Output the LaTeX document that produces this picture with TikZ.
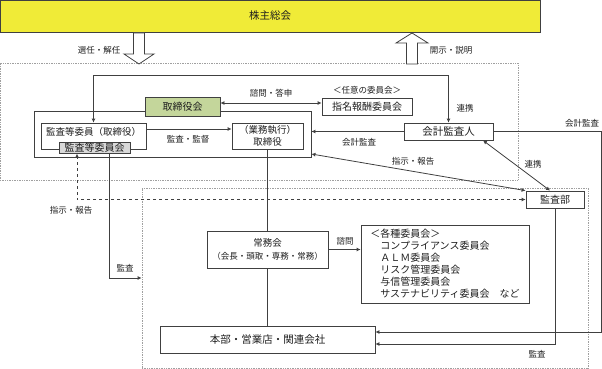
\documentclass[tikz,border=0pt]{standalone}
\usepackage{fontspec}
\setmainfont{Noto Sans CJK JP}
\usetikzlibrary{arrows.meta}
\begin{document}
\begin{tikzpicture}[x=1pt,y=1pt,font=\fontsize{9.5}{11}\selectfont,
hako/.style={draw=sen,line width=0.8pt,inner sep=0pt,align=center,text=moji},
tensen/.style={draw=usuhai,densely dotted,line width=0.7pt,inner sep=0pt},
yaji/.style={draw=sen,line width=0.8pt,-{Latex[length=4pt,width=4pt]}},
ryou/.style={draw=sen,line width=0.8pt,{Latex[length=4pt,width=4pt]}-{Latex[length=4pt,width=4pt]}},
futo/.style={draw=sen,line width=0.8pt,fill=white},
komoji/.style={font=\fontsize{8.5}{10}\selectfont,inner sep=0pt,text=moji}]
\definecolor{sen}{RGB}{64,64,64}
\definecolor{moji}{RGB}{30,30,30}
\definecolor{usuhai}{RGB}{160,160,160}
\definecolor{kiiro}{RGB}{240,235,55}
\definecolor{midori}{RGB}{196,214,155}
\definecolor{hai}{RGB}{217,217,217}
\useasboundingbox (0,0) rectangle (602,-369);
\node[hako,fill=kiiro,minimum width=540pt,minimum height=32pt,font=\fontsize{10.5}{12}\selectfont] (soukai) at (270,-16) {株主総会};
\node[tensen,minimum width=518pt,minimum height=117pt] (ue) at (259,-121.5) {};
\node[tensen,minimum width=446pt,minimum height=180pt] (shita) at (365,-278) {};
\draw[futo] (133.5,-33) -- (144.5,-33) -- (144.5,-54) -- (154,-54) -- (139,-64) -- (124,-54) -- (133.5,-54) -- cycle;
\draw[futo] (406.5,-64) -- (417.5,-64) -- (417.5,-43) -- (428,-43) -- (412,-33) -- (396,-43) -- (406.5,-43) -- cycle;
\node[komoji] (lsennin) at (99,-50) {選任・解任};
\node[komoji] (lkaiji) at (451,-50) {開示・説明};
\node[hako,minimum width=277pt,minimum height=46pt] (bd) at (172.5,-134) {};
\node[hako,fill=midori,minimum width=75pt,minimum height=19pt,font=\fontsize{10}{12}\selectfont] (torikai) at (182.5,-106.5) {取締役会};
\node[hako,fill=white,minimum width=105pt,minimum height=26pt,text depth=10pt] (iin) at (93.5,-136) {監査等委員（取締役）};
\node[hako,fill=hai,minimum width=71pt,minimum height=10.5pt,font=\fontsize{10}{10}\selectfont] (iinkai) at (94.5,-148) {監査等委員会};
\node[hako,minimum width=71pt,minimum height=26pt,font=\fontsize{9.5}{12}\selectfont] (gyomu) at (267.5,-136) {（業務執行）\\取締役};
\node[hako,minimum width=90pt,minimum height=17pt,font=\fontsize{10}{12}\selectfont] (shimei) at (367,-106.5) {指名報酬委員会};
\node[komoji] (nini) at (367,-90) {＜任意の委員会＞};
\node[hako,minimum width=89pt,minimum height=17pt,font=\fontsize{10.5}{12}\selectfont] (kaikei) at (448.5,-131.5) {会計監査人};
\node[hako,minimum width=58pt,minimum height=17pt,font=\fontsize{10}{12}\selectfont] (kansabu) at (555,-199.5) {監査部};
\node[hako,minimum width=121pt,minimum height=37pt,font=\fontsize{9.5}{13}\selectfont] (joumu) at (267.5,-249.5) {常務会\\{\fontsize{8.5}{13}\selectfont（会長・頭取・専務・常務）}};
\node[hako,minimum width=168pt,minimum height=78pt,align=left,font=\fontsize{10}{12}\selectfont] (kakushu) at (445,-264) {＜各種委員会＞\\\hspace*{10pt}コンプライアンス委員会\\\hspace*{10pt}ＡＬＭ委員会\\\hspace*{10pt}リスク管理委員会\\\hspace*{10pt}与信管理委員会\\\hspace*{10pt}サステナビリティ委員会　など};
\node[hako,minimum width=215pt,minimum height=27pt,font=\fontsize{10.5}{12}\selectfont] (honbu) at (267.5,-339.5) {本部・営業店・関連会社};
\draw[ryou] (iin.north) -- ++(0,47) -| (kaikei.north);
\draw[ryou] ([yshift=3.5pt]torikai.east) -- ([yshift=3.5pt]shimei.west);
\draw[yaji] ([yshift=7pt]iin.east) -- ([yshift=7pt]gyomu.west);
\draw[yaji] (kaikei.west) -- (kaikei.west -| bd.east);
\draw[ryou] ([yshift=-20pt]bd.east) -- (kansabu.north west);
\draw[ryou] ([xshift=34.5pt]kaikei.south) -- ([xshift=-5pt]kansabu.north);
\draw[yaji] (kaikei.east) -- ++(108,0) |- ([yshift=7.5pt]honbu.east);
\draw[yaji] (kansabu.south) |- ([yshift=-4.5pt]honbu.east);
\draw[ryou,dashed] (kansabu.west) -| ([xshift=-17.5pt]iinkai.south);
\draw[yaji] ([xshift=14.5pt]iinkai.south) |- (shita.west);
\draw[draw=sen,line width=0.8pt] (gyomu) -- (joumu);
\draw[yaji] (joumu.east) -- (joumu.east -| kakushu.west);
\draw[draw=sen,line width=0.8pt] (joumu) -- (honbu);
\node[komoji] (lshimon) at (271,-93) {諮問・答申};
\node[komoji] (lrenkei) at (465,-108) {連携};
\node[komoji] (lkansatoku) at (188,-139) {監査・監督};
\node[komoji] (lkaikei) at (359,-142) {会計監査};
\node[komoji] (lshiji) at (413,-161) {指示・報告};
\node[komoji] (lrenkeib) at (533,-164) {連携};
\node[komoji] (lkaikeib) at (582,-123) {会計監査};
\node[komoji] (lshijib) at (71,-210) {指示・報告};
\node[komoji] (lkansa) at (125,-268) {監査};
\node[komoji] (lshimonb) at (345,-241) {諮問};
\node[komoji] (lkansab) at (537,-354) {監査};
\end{tikzpicture}
\end{document}
